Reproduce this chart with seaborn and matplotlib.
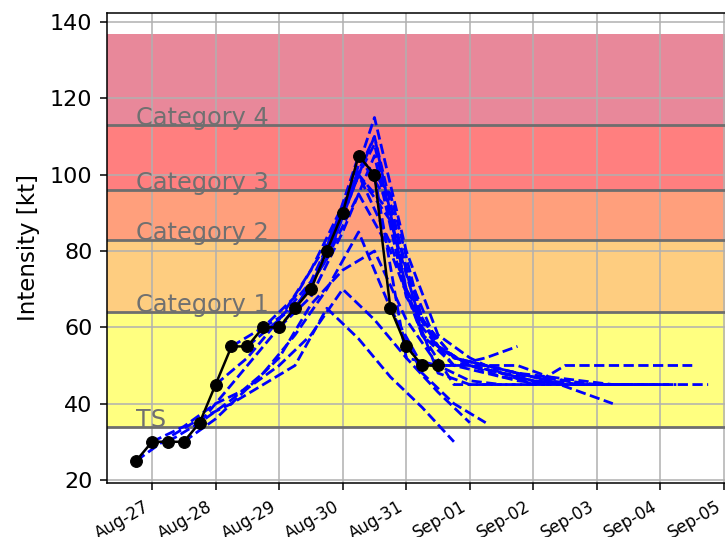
import numpy as np
import pandas as pd
import matplotlib
matplotlib.use("Agg")
import matplotlib.pyplot as plt
import matplotlib.dates as mdates
import seaborn as sns

# observed (best track) intensity, every 6 h
obs_start = "2021-08-26 18:00"
obs_vmax = [25, 30, 30, 30, 35, 45, 55, 55, 60, 60,
            65, 70, 80, 90, 105, 100, 65, 55, 50, 50]

# forecasts, one row per init time (6-hourly from obs_start), values every 12 h
lead_hours = [0, 12, 24, 36, 48, 60, 72, 84, 96, 108, 120]
fcst_vmax = [
    [25, 31, 36, 40, 45, 50, 65, 57, 47, 39, 30],
    [30, 34, 40, 44, 50, 58, 70, 62, 52, 43, 35],
    [30, 35, 41, 48, 58, 70, 85, 65, 48, 40, 35],
    [30, 36, 44, 52, 66, 75, 80, 62, 50, 46, 45],
    [35, 45, 55, 65, 78, 95, 80, 58, 50, 52, 55],
    [45, 52, 62, 75, 92, 110, 75, 55, 50, 47, 46],
    [55, 60, 68, 82, 100, 88, 60, 50, 48, 46, 45],
    [55, 62, 72, 90, 115, 80, 58, 52, 48, 46, 45],
    [60, 65, 78, 100, 82, 58, 52, 50, 48, 46, 45],
    [60, 68, 85, 105, 68, 55, 50, 48, 46, 45, 45],
    [65, 78, 100, 90, 62, 52, 50, 48, 46, 43, 40],
    [70, 92, 108, 70, 55, 50, 48, 47, 46, 45, 45],
    [80, 105, 95, 62, 52, 50, 48, 47, 46, 45, 45],
    [90, 110, 70, 48, 45, 45, 45, 45, 45, 45, 45],
    [105, 92, 58, 45, 45, 45, 45, 45, 45, 45, 45],
    [100, 52, 50, 50, 48, 45, 50, 50, 50, 50, 50],
    [65, 50, 50, 50, 50, 47, 45, 45, 45, 45, 45],
]

# Saffir-Simpson bands
cat_names = ["TS", "Category 1", "Category 2", "Category 3", "Category 4"]
cat_lower = [34, 64, 83, 96, 113]
cat_upper = [64, 83, 96, 113, 137]
cat_colors = ["#ffff80", "#fecd80", "#ff9f7c", "#ff7f7f", "#e8889a"]

obs_time = pd.date_range(obs_start, periods=len(obs_vmax), freq="6h")
obs = pd.DataFrame({"time": obs_time, "vmax": obs_vmax})

rows = []
for i, vals in enumerate(fcst_vmax):
    t0 = obs_time[i]
    for h, v in zip(lead_hours, vals):
        rows.append({"init": i, "time": t0 + pd.Timedelta(hours=h), "vmax": v})
fc = pd.DataFrame(rows)

fig = plt.figure(figsize=(7.25, 5.37), dpi=100)
ax = fig.add_axes([0.1476, 0.1006, 0.873, 0.8752])

for lo, hi, c, name in zip(cat_lower, cat_upper, cat_colors, cat_names):
    ax.axhspan(lo, hi, color=c, lw=0, zorder=1)
    ax.axhline(lo, color="#6e6e6e", lw=2, zorder=2)
    ax.text(obs_time[0], lo, name, fontsize=17.3, color="#707070",
            ha="left", va="baseline", zorder=2.5)

sns.lineplot(data=fc, x="time", y="vmax", units="init", estimator=None,
             color="b", linestyle="--", lw=2.0, ax=ax, zorder=3)
sns.lineplot(data=obs, x="time", y="vmax", color="k", marker="o",
             markersize=8.5, markeredgecolor="k", lw=1.8, ax=ax, zorder=4)

ax.set_xlim(pd.Timestamp("2021-08-26 07:00"), pd.Timestamp("2021-09-05 06:00"))
ax.set_ylim(19.2, 142.4)
ax.set_yticks(np.arange(20, 141, 20))
ax.xaxis.set_major_locator(mdates.DayLocator())
ax.xaxis.set_major_formatter(mdates.DateFormatter("%b-%d"))
for sp in ax.spines.values():
    sp.set_linewidth(1.1)
ax.set_xlabel("")
ax.set_ylabel("Intensity [kt]", fontsize=16.5, labelpad=7)
ax.grid(True, lw=1.1)
ax.tick_params(axis="both", length=5, width=1.1, pad=5.5)
ax.tick_params(axis="y", labelsize=16)
ax.tick_params(axis="x", labelsize=12, labelrotation=30)
plt.setp(ax.get_xticklabels(), ha="right")

fig.savefig("out.png", dpi=100)
